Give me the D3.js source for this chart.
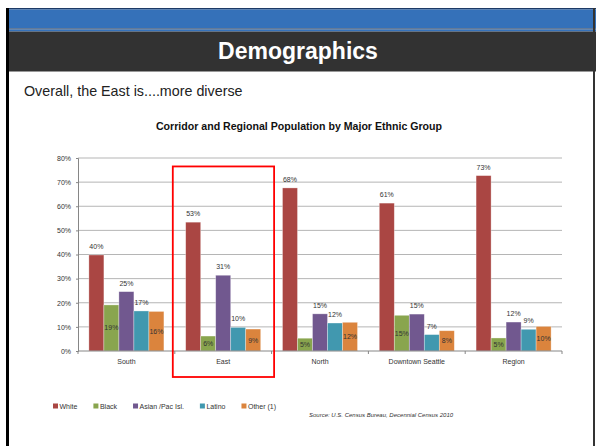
<!DOCTYPE html>
<html>
<head>
<meta charset="utf-8">
<script src="https://cdn.jsdelivr.net/npm/d3@7"></script>
<style>
  html, body { margin: 0; padding: 0; background: #fff; }
  svg { display: block; font-family: "Liberation Sans", Arial, sans-serif; }
</style>
</head>
<body>
<div id="chart"></div>
<script>
const categories = ["South", "East", "North", "Downtown Seattle", "Region"];
const groups = ["White", "Black", "Asian /Pac Isl.", "Latino", "Other (1)"];
const white  = [0.398, 0.534, 0.676, 0.613, 0.727];
const black  = [0.191, 0.062, 0.053, 0.148, 0.054];
const asian  = [0.246, 0.314, 0.154, 0.153, 0.120];
const latino = [0.166, 0.098, 0.116, 0.068, 0.090];
const other  = [0.164, 0.091, 0.119, 0.084, 0.102];
const yTicks = [0, 0.1, 0.2, 0.3, 0.4, 0.5, 0.6, 0.7, 0.8];
const colors = ["#AA4643", "#89A54E", "#71588F", "#4198AF", "#DB843D"];
// labels for these series sit inside the bar, the rest above it
const insideLabels = ["Black", "Other (1)"];

const seriesValues = [white, black, asian, latino, other];
const rows = categories.map((c, i) => ({
  category: c,
  values: groups.map((g, j) => ({ group: g, value: seriesValues[j][i] }))
}));

const W = 596, H = 446;
const svg = d3.select("#chart").append("svg")
  .attr("width", W).attr("height", H);

// --- slide frame and header ---
svg.append("rect").attr("x", 6).attr("y", 8).attr("width", 590).attr("height", 1.5).attr("fill", "#1d3a66");
svg.append("rect").attr("x", 6).attr("y", 9.5).attr("width", 590).attr("height", 19).attr("fill", "#3571b9");
svg.append("rect").attr("x", 6).attr("y", 28.5).attr("width", 590).attr("height", 1).attr("fill", "#2f3f55");
svg.append("rect").attr("x", 6).attr("y", 29.5).attr("width", 590).attr("height", 2).attr("fill", "#3571b9");
svg.append("rect").attr("x", 6).attr("y", 31.5).attr("width", 590).attr("height", 40).attr("fill", "#323232");
svg.append("rect").attr("x", 6).attr("y", 8).attr("width", 3).attr("height", H - 8).attr("fill", "#000");
svg.append("rect").attr("x", 593).attr("y", 8).attr("width", 2).attr("height", H - 8).attr("fill", "#333");

svg.append("text")
  .attr("x", 298).attr("y", 59)
  .attr("text-anchor", "middle")
  .attr("fill", "#fff")
  .style("font-size", "23px").style("font-weight", "bold")
  .text("Demographics");

svg.append("text")
  .attr("x", 24).attr("y", 95.5)
  .attr("fill", "#222")
  .style("font-size", "14.3px")
  .text("Overall, the East is....more diverse");

svg.append("text")
  .attr("x", 299).attr("y", 129.5)
  .attr("text-anchor", "middle")
  .attr("fill", "#111")
  .style("font-size", "10.6px").style("font-weight", "bold")
  .text("Corridor and Regional Population by Major Ethnic Group");

// --- chart ---
const plotLeft = 78, plotRight = 562, plotTop = 158, plotBottom = 351;

const x0 = d3.scaleBand().domain(categories).range([plotLeft, plotRight])
  .paddingInner(0.225).paddingOuter(0.1125);
const x1 = d3.scaleBand().domain(groups).range([0, x0.bandwidth()]);
const y = d3.scaleLinear().domain([0, 0.8]).range([plotBottom, plotTop]);
const fmt = d3.format(".0%");

// gridlines
svg.append("g")
  .selectAll("line")
  .data(yTicks.slice(1))
  .join("line")
  .attr("x1", plotLeft).attr("x2", plotRight)
  .attr("y1", d => y(d)).attr("y2", d => y(d))
  .attr("stroke", "#b5b5b5").attr("stroke-width", 1);

// y axis
const yAxis = svg.append("g")
  .attr("transform", `translate(${plotLeft},0)`)
  .call(d3.axisLeft(y).tickValues(yTicks).tickFormat(fmt).tickSize(2).tickPadding(5));
yAxis.select(".domain").attr("stroke", "#868686");
yAxis.selectAll(".tick line").attr("stroke", "#868686");
yAxis.selectAll("text").attr("fill", "#333").style("font-size", "7px")
  .style("font-family", "'Liberation Sans', Arial, sans-serif");

// bars
const groupG = svg.append("g")
  .selectAll("g")
  .data(rows)
  .join("g")
  .attr("transform", d => `translate(${x0(d.category)},0)`);

groupG.selectAll("rect")
  .data(d => d.values)
  .join("rect")
  .attr("x", d => x1(d.group))
  .attr("width", x1.bandwidth())
  .attr("y", d => y(d.value))
  .attr("height", d => y(0) - y(d.value))
  .attr("fill", (d, i) => colors[i])
  .attr("stroke", "#fff").attr("stroke-opacity", 0.45).attr("stroke-width", 0.7);

groupG.selectAll("text")
  .data(d => d.values)
  .join("text")
  .attr("x", d => x1(d.group) + x1.bandwidth() / 2)
  .attr("y", d => insideLabels.includes(d.group)
    ? (y(d.value) + y(0)) / 2 + 2.5
    : y(d.value) - 6)
  .attr("text-anchor", "middle")
  .attr("fill", "#333")
  .style("font-size", "7px")
  .text(d => fmt(d.value));

// x axis
const step = x0.step();
const xAxis = svg.append("g")
  .attr("transform", `translate(0,${plotBottom})`);
xAxis.append("line")
  .attr("x1", plotLeft).attr("x2", plotRight)
  .attr("stroke", "#868686");
xAxis.selectAll(".sep")
  .data(categories)
  .join("line")
  .attr("class", "sep")
  .attr("x1", d => x0(d) + x0.bandwidth() + step * x0.paddingInner() / 2)
  .attr("x2", d => x0(d) + x0.bandwidth() + step * x0.paddingInner() / 2)
  .attr("y1", 0).attr("y2", 3)
  .attr("stroke", "#868686");
xAxis.append("line").attr("x1", plotLeft).attr("x2", plotLeft).attr("y1", 0).attr("y2", 3).attr("stroke", "#868686");
xAxis.selectAll(".cat")
  .data(categories)
  .join("text")
  .attr("class", "cat")
  .attr("x", d => x0(d) + x0.bandwidth() / 2)
  .attr("y", 12.5)
  .attr("text-anchor", "middle")
  .attr("fill", "#333")
  .style("font-size", "7px")
  .text(d => d);

// red highlight around East
const boxX = x0("East") - step * x0.paddingInner() / 2 - 2;
svg.append("rect")
  .attr("x", boxX).attr("y", y(0.765))
  .attr("width", step + 4.5).attr("height", plotBottom + 26 - y(0.765))
  .attr("fill", "none").attr("stroke", "#f00").attr("stroke-width", 1.8);

// legend
const legend = svg.append("g").attr("transform", "translate(53,406)");
let lx = 0;
groups.forEach((g, i) => {
  const item = legend.append("g").attr("transform", `translate(${lx},0)`);
  item.append("rect").attr("x", 0).attr("y", -2.5).attr("width", 5).attr("height", 5).attr("fill", colors[i]);
  const t = item.append("text").attr("x", 6.5).attr("y", 2.5)
    .attr("fill", "#333").style("font-size", "7px").text(g);
  lx += 6.5 + t.node().getComputedTextLength() + 16;
});

svg.append("text")
  .attr("x", 309).attr("y", 416.5)
  .attr("fill", "#333")
  .style("font-size", "6px").style("font-style", "italic")
  .text("Source: U.S. Census Bureau, Decennial Census 2010");
</script>
</body>
</html>
